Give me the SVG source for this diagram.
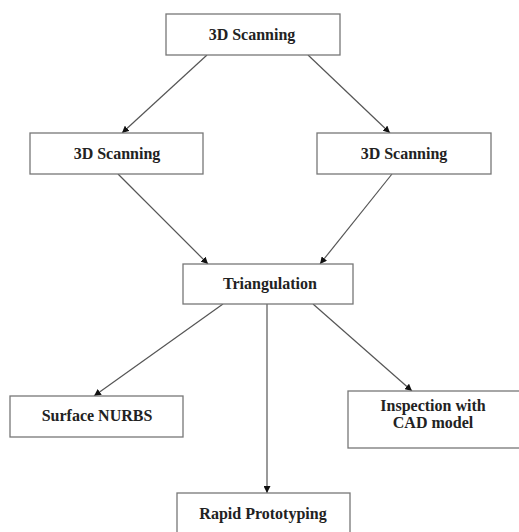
<svg xmlns="http://www.w3.org/2000/svg" width="519" height="532" viewBox="0 0 519 532">
<style>
.box{fill:#fff;stroke:#777;stroke-width:1.3}
.t{font-family:"Liberation Serif","Times New Roman",serif;font-weight:bold;font-size:16px;fill:#222;text-anchor:middle}
.c{stroke:#555;stroke-width:1.2;fill:none;marker-end:url(#ah)}
</style>
<defs>
<marker id="ah" viewBox="0 0 10 10" refX="10" refY="5" markerWidth="7" markerHeight="7" markerUnits="userSpaceOnUse" orient="auto">
<path d="M0,0 L10,5 L0,10 z" fill="#111"/>
</marker>
</defs>
<rect width="519" height="532" fill="#fff"/>
<g id="connectors">
<line class="c" x1="207" y1="55" x2="122" y2="133"/>
<line class="c" x1="308" y1="55" x2="390" y2="133"/>
<line class="c" x1="118" y1="174" x2="208" y2="264"/>
<line class="c" x1="392" y1="174" x2="320" y2="264"/>
<line class="c" x1="223" y1="304" x2="94" y2="396"/>
<line class="c" x1="267" y1="304" x2="267" y2="493"/>
<line class="c" x1="313" y1="304" x2="412" y2="391"/>
</g>
<g id="n1"><rect class="box" x="166" y="14" width="174" height="41"/><text class="t" x="252" y="40">3D Scanning</text></g>
<g id="n2"><rect class="box" x="30" y="133" width="173" height="41"/><text class="t" x="117" y="159">3D Scanning</text></g>
<g id="n3"><rect class="box" x="317" y="133" width="174" height="41"/><text class="t" x="404" y="159">3D Scanning</text></g>
<g id="n4"><rect class="box" x="183" y="264" width="170" height="40"/><text class="t" x="270" y="289">Triangulation</text></g>
<g id="n5"><rect class="box" x="10" y="396" width="173" height="41"/><text class="t" x="97" y="421">Surface NURBS</text></g>
<g id="n6"><rect class="box" x="348" y="391" width="175" height="57"/><text class="t" x="433" y="411">Inspection with</text><text class="t" x="433" y="428">CAD model</text></g>
<g id="n7"><rect class="box" x="177" y="493" width="173" height="45"/><text class="t" x="263" y="519">Rapid Prototyping</text></g>
</svg>
